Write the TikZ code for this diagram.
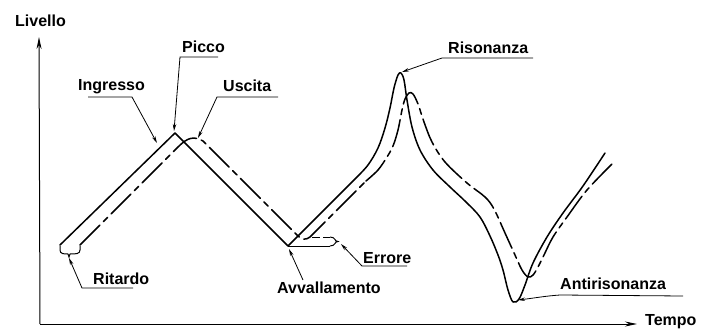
\documentclass[tikz,border=0pt]{standalone}
\usepackage{fontspec}
\setmainfont{Liberation Sans}
\usetikzlibrary{arrows.meta}
\begin{document}
\begin{tikzpicture}[x=1pt,y=-1pt,
  lbl/.style={font=\bfseries\fontsize{16}{18}\selectfont, inner sep=0pt, anchor=base west},
  sigin/.style={line width=1.5pt, line join=round, line cap=round},
  sigout/.style={sigin, dash pattern=on 28pt off 5pt on 6pt off 5pt},
  leader/.style={line width=0.8pt, -{Stealth[length=7pt,width=3.5pt]}},
  brace/.style={line width=1pt},
  axis/.style={line width=1pt, -{Stealth[length=12pt,width=5pt]}}]
\useasboundingbox (0,0) rectangle (710,329);

% axes
\coordinate (O) at (40,324);
\coordinate (ytip) at (39,37);
\coordinate (xtip) at (637,324);
\draw[axis] (O) -- (ytip);
\draw[axis] (O) -- (xtip);
\node[lbl] (livello) at (15,27) {Livello};
\node[lbl] (tempo) at (645,325) {Tempo};

% input signal (solid)
\draw[sigin] (60,245) -- (175,133) -- (288,246) -- (356,178)
  plot[smooth, tension=0.55] coordinates {(356,178) (368,165) (378,148) (385,128) (390,108) (394,88) (398,75) (401,73) (404,80) (407,100) (412,127) (420,150) (433,170) (450,187) (466,202) (480,217) (490,236) (498,255) (503,270) (508,290) (513,302) (519,299) (525,285) (533,263) (547,237) (563,213) (583,186) (605,153)};

% output signal (dash-dot)
\draw[sigout] (80,245) -- (178,147) .. controls (188,137) and (194,136) .. (203,141) -- (298,236) .. controls (302,240) and (306,240) .. (310,237) -- (366,181)
  plot[smooth, tension=0.55] coordinates {(366,181) (378,170) (387,157) (393,146) (398,130) (402,110) (405,99) (409,93) (413,94) (418,104) (424,122) (432,142) (445,162) (467,183) (485,197) (494,209) (505,233) (515,255) (522,270) (528,277) (533,275) (538,267) (544,255) (553,237) (567,217) (587,190) (613,163)};

% delay brace
\draw[brace] (60,246) -- (60,250) .. controls (60,254) and (64,254) .. (68,254) -- (69,257) -- (70,254) .. controls (76,254) and (80,254) .. (80,250) -- (80,246);

% error brace
\draw[brace] (288,246) -- (330,246);
\draw[brace, dash pattern=on 8pt off 3pt] (312,237) -- (330,237);
\draw[brace] (330,237) .. controls (336,237) and (334,241.5) .. (338,241.5) .. controls (334,241.5) and (336,246) .. (330,246);

% labels
\node[lbl] (picco) at (182,52.7) {Picco};
\node[lbl] (ingresso) at (78,90.7) {Ingresso};
\node[lbl] (uscita) at (223,91.7) {Uscita};
\node[lbl] (risonanza) at (448,53.3) {Risonanza};
\node[lbl] (ritardo) at (93,284.3) {Ritardo};
\node[lbl] (errore) at (363,263.3) {Errore};
\node[lbl] (avvallamento) at (277,293.3) {Avvallamento};
\node[lbl] (antiris) at (560,289.3) {Antirisonanza};

% leader points
\coordinate (piccoR) at (218,57);   \coordinate (piccoL) at (180,57);   \coordinate (piccoP) at (174,131);
\coordinate (ingL) at (88,97);      \coordinate (ingR) at (132,97);     \coordinate (ingP) at (157,143);
\coordinate (uscR) at (278,97);     \coordinate (uscL) at (217,97);     \coordinate (uscP) at (198,138);
\coordinate (risR) at (533,58);     \coordinate (risL) at (442,58);     \coordinate (risP) at (402,72);
\coordinate (ritR) at (133,288);    \coordinate (ritL) at (82,288);     \coordinate (ritP) at (69,258);
\coordinate (errR) at (407,266);    \coordinate (errL) at (362,266);    \coordinate (errP) at (341,244);
\coordinate (avvL) at (303,280);    \coordinate (avvP) at (289,249);
\coordinate (antR) at (683,296);    \coordinate (antL) at (560,295);    \coordinate (antP) at (518,300);

\draw[leader] (piccoR) -- (piccoL) -- (piccoP);
\draw[leader] (ingL) -- (ingR) -- (ingP);
\draw[leader] (uscR) -- (uscL) -- (uscP);
\draw[leader] (risR) -- (risL) -- (risP);
\draw[leader] (ritR) -- (ritL) -- (ritP);
\draw[leader] (errR) -- (errL) -- (errP);
\draw[leader] (avvL) -- (avvP);
\draw[leader] (antR) -- (antL) .. controls (545,296) and (535,298) .. (antP);
\end{tikzpicture}
\end{document}
